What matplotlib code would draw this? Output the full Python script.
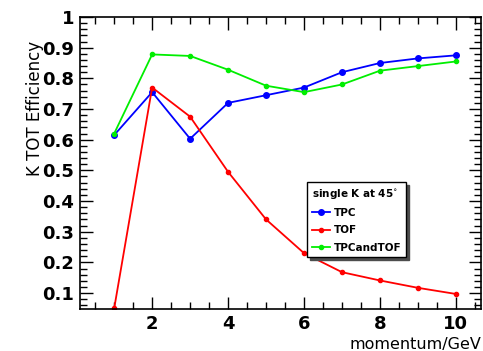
import numpy as np
import matplotlib.pyplot as plt
from matplotlib.ticker import MultipleLocator

momentum = [1, 2, 3, 4, 5, 6, 7, 8, 9, 10]
tpc = [0.615, 0.755, 0.603, 0.720, 0.745, 0.770, 0.820, 0.850, 0.865, 0.875]
tof = [0.050, 0.770, 0.675, 0.495, 0.340, 0.230, 0.168, 0.141, 0.117, 0.097]
tpc_and_tof = [0.620, 0.878, 0.873, 0.828, 0.776, 0.755, 0.780, 0.825, 0.840, 0.855]

fig = plt.figure(figsize=(4.83, 3.51), dpi=100)
ax = fig.add_axes([80 / 483, 42 / 351, 401 / 483, 292 / 351])

ax.plot(momentum, tpc, color='#0000ff', marker='o', markersize=4, lw=1.3, label='TPC')
ax.plot(momentum, tof, color='#ff0000', marker='o', markersize=3, lw=1.3, label='TOF')
ax.plot(momentum, tpc_and_tof, color='#00ee00', marker='o', markersize=3, lw=1.3, label='TPCandTOF')

ax.set_xlim(0.1, 10.66)
ax.set_ylim(0.048, 1.0)
ax.xaxis.set_major_locator(MultipleLocator(2))
ax.xaxis.set_minor_locator(MultipleLocator(0.5))
ax.yaxis.set_minor_locator(MultipleLocator(0.02))
ax.set_yticks(np.arange(0.1, 1.01, 0.1))
ax.set_yticklabels(['0.1', '0.2', '0.3', '0.4', '0.5', '0.6', '0.7', '0.8', '0.9', '1'])
ax.tick_params(which='both', direction='in', top=True, right=True, labelsize=13, width=1)
ax.tick_params(which='major', length=9, pad=4)
ax.tick_params(which='minor', length=5)
for lab in ax.get_xticklabels() + ax.get_yticklabels():
    lab.set_fontweight('bold')
for s in ax.spines.values():
    s.set_linewidth(1.2)

fig.text(35 / 483, 1 - 108 / 351, 'K TOT Efficiency', rotation=90, fontsize=12,
         ha='center', va='center')
fig.text(481 / 483, 1 - 344 / 351, 'momentum/GeV', fontsize=11.5, ha='right', va='center')

leg = ax.legend(loc='upper left', bbox_to_anchor=(227 / 401, 1 - 165 / 292),
                borderaxespad=0, title='single K at 45$^{\\circ}$', fancybox=False,
                shadow={'color': '0.3', 'alpha': 1}, edgecolor='black', fontsize=7.5,
                title_fontsize=7.5, borderpad=0.45, handlelength=1.8, handletextpad=0.3,
                labelspacing=0.7)
leg.get_frame().set_linewidth(1.0)
leg.get_title().set_fontweight('bold')
leg._legend_box.align = 'left'
for t in leg.get_texts():
    t.set_fontweight('bold')

fig.savefig('out.png', dpi=100)
